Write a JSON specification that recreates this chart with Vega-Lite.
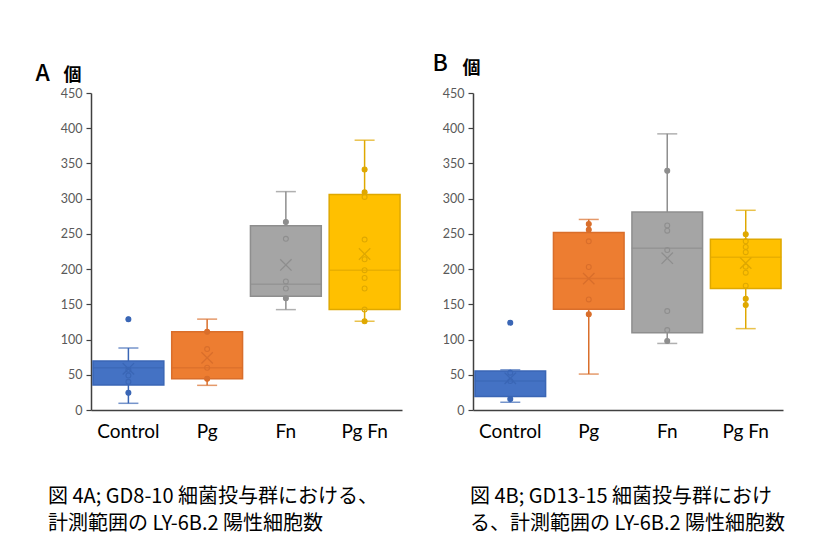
{
  "$schema": "https://vega.github.io/schema/vega-lite/v6.json",
  "autosize": {"type": "none"},
  "padding": {"left": 91, "top": 93, "right": 742, "bottom": 458},
  "background": "white",
  "bounds": "flush",
  "spacing": 71,
  "config": {
    "view": {"stroke": null},
    "axis": {"grid": false},
    "axisY": {
      "labelOverlap": false, "labelFlush": false, "labelBound": false,
      "labelFontSize": 12.5, "labelColor": "#595959", "labelPadding": 4,
      "tickSize": 5, "tickColor": "#404040", "domainColor": "#404040", "domainWidth": 1.5, "tickWidth": 1.2,
      "titleAlign": "left", "titleBaseline": "alphabetic", "titleAngle": 0,
      "titleFontSize": 18, "titleFontWeight": "bold", "titleColor": "#000000", "titleFont": "Noto Sans CJK JP"
    },
    "font": "Lato"
  },
  "datasets": {
    "statsA": [
      {"group": "Control", "min": 9.5, "q1": 35.5, "median": 60, "q3": 69.5, "max": 88, "mean": 58.5},
      {"group": "Pg", "min": 35, "q1": 44.5, "median": 60, "q3": 111, "max": 129, "mean": 74},
      {"group": "Fn", "min": 142.5, "q1": 161.5, "median": 178.5, "q3": 261.5, "max": 310, "mean": 206},
      {"group": "Pg Fn", "min": 126, "q1": 142.5, "median": 198.5, "q3": 306, "max": 383, "mean": 221.5}
    ],
    "statsB": [
      {"group": "Control", "min": 11, "q1": 19, "median": 41, "q3": 55.5, "max": 57, "mean": 45},
      {"group": "Pg", "min": 51, "q1": 143, "median": 186.5, "q3": 252, "max": 270.5, "mean": 186.5},
      {"group": "Fn", "min": 94.5, "q1": 109.5, "median": 229.5, "q3": 281, "max": 392, "mean": 215.5},
      {"group": "Pg Fn", "min": 115.5, "q1": 172.5, "median": 217, "q3": 242.5, "max": 283.5, "mean": 208.5}
    ],
    "pointsA": [
      {"group": "Control", "value": 24.5}, {"group": "Control", "value": 40}, {"group": "Control", "value": 49}, {"group": "Control", "value": 57}, {"group": "Control", "value": 129},
      {"group": "Pg", "value": 44.5}, {"group": "Pg", "value": 60}, {"group": "Pg", "value": 86.5}, {"group": "Pg", "value": 111},
      {"group": "Fn", "value": 158.5}, {"group": "Fn", "value": 172.5}, {"group": "Fn", "value": 182.5}, {"group": "Fn", "value": 243}, {"group": "Fn", "value": 267},
      {"group": "Pg Fn", "value": 126}, {"group": "Pg Fn", "value": 142.6}, {"group": "Pg Fn", "value": 172.5}, {"group": "Pg Fn", "value": 187.5}, {"group": "Pg Fn", "value": 198.5}, {"group": "Pg Fn", "value": 214}, {"group": "Pg Fn", "value": 242}, {"group": "Pg Fn", "value": 302.5}, {"group": "Pg Fn", "value": 309}, {"group": "Pg Fn", "value": 341.5}
    ],
    "pointsB": [
      {"group": "Control", "value": 15.5}, {"group": "Control", "value": 41}, {"group": "Control", "value": 53}, {"group": "Control", "value": 124},
      {"group": "Pg", "value": 136}, {"group": "Pg", "value": 157}, {"group": "Pg", "value": 203}, {"group": "Pg", "value": 239.5}, {"group": "Pg", "value": 256}, {"group": "Pg", "value": 264},
      {"group": "Fn", "value": 98}, {"group": "Fn", "value": 113.5}, {"group": "Fn", "value": 140.5}, {"group": "Fn", "value": 227}, {"group": "Fn", "value": 254.5}, {"group": "Fn", "value": 262}, {"group": "Fn", "value": 339.5},
      {"group": "Pg Fn", "value": 149}, {"group": "Pg Fn", "value": 158}, {"group": "Pg Fn", "value": 176.5}, {"group": "Pg Fn", "value": 195}, {"group": "Pg Fn", "value": 203.5}, {"group": "Pg Fn", "value": 224}, {"group": "Pg Fn", "value": 231.5}, {"group": "Pg Fn", "value": 239.5}, {"group": "Pg Fn", "value": 249.5}
    ]
  },
  "hconcat": [
    {
      "width": 311,
      "height": 317,
      "title": {
        "text": ["図 4A; GD8-10 細菌投与群における、", "計測範囲の LY-6B.2 陽性細胞数"],
        "orient": "bottom", "anchor": "start", "frame": "group", "dx": -43, "offset": 46,
        "font": "Noto Sans CJK JP", "fontSize": 20, "fontWeight": "normal", "lineHeight": 27, "color": "#000000"
      },
      "encoding": {
        "x": {
          "field": "group", "type": "nominal", "sort": ["Control", "Pg", "Fn", "Pg Fn"],
          "scale": {"paddingInner": 0.1, "paddingOuter": 0.025},
          "axis": {
            "labelAngle": 0, "labelFontSize": 19, "labelColor": "#000000", "labelPadding": 12, "ticks": false,
            "domainColor": "#404040", "domainWidth": 1.5,
            "title": "A", "titleX": -56, "titleY": -330, "titleAlign": "left", "titleBaseline": "alphabetic", "titleAngle": 0,
            "titleFontSize": 23, "titleFontWeight": 500, "titleColor": "#000000", "titleFont": "Noto Sans CJK JP"
          }
        }
      },
      "layer": [
        {
          "data": {"name": "statsA"},
          "mark": {"type": "rule", "strokeWidth": 1.5},
          "encoding": {
            "y": {"field": "min", "type": "quantitative", "title": "個", "scale": {"domain": [0, 450], "nice": false},
              "axis": {"values": [0, 50, 100, 150, 200, 250, 300, 350, 400, 450], "labelOverlap": false, "titleX": -28, "titleY": -13}},
            "y2": {"field": "q1"},
            "color": {"field": "group", "type": "nominal", "scale": {"domain": ["Control", "Pg", "Fn", "Pg Fn"], "range": ["#3A66B5", "#D96E2B", "#8E8E8E", "#DFA800"]}, "legend": null}
          }
        },
        {
          "data": {"name": "statsA"},
          "mark": {"type": "rule", "strokeWidth": 1.5},
          "encoding": {
            "y": {"field": "q3", "type": "quantitative", "title": "個", "axis": {"values": [0, 50, 100, 150, 200, 250, 300, 350, 400, 450], "labelOverlap": false, "titleX": -28, "titleY": -13}},
            "y2": {"field": "max"},
            "color": {"field": "group", "type": "nominal", "legend": null}
          }
        },
        {
          "data": {"name": "statsA"},
          "mark": {"type": "tick", "size": 20, "thickness": 1.5},
          "encoding": {
            "y": {"field": "min", "type": "quantitative", "title": "個", "axis": {"values": [0, 50, 100, 150, 200, 250, 300, 350, 400, 450], "labelOverlap": false, "titleX": -28, "titleY": -13}},
            "color": {"field": "group", "type": "nominal", "legend": null}
          }
        },
        {
          "data": {"name": "statsA"},
          "mark": {"type": "tick", "size": 20, "thickness": 1.5},
          "encoding": {
            "y": {"field": "max", "type": "quantitative", "title": "個", "axis": {"values": [0, 50, 100, 150, 200, 250, 300, 350, 400, 450], "labelOverlap": false, "titleX": -28, "titleY": -13}},
            "color": {"field": "group", "type": "nominal", "legend": null}
          }
        },
        {
          "data": {"name": "statsA"},
          "mark": {"type": "bar", "strokeWidth": 1.5},
          "encoding": {
            "y": {"field": "q1", "type": "quantitative", "title": "個", "axis": {"values": [0, 50, 100, 150, 200, 250, 300, 350, 400, 450], "labelOverlap": false, "titleX": -28, "titleY": -13}},
            "y2": {"field": "q3"},
            "fill": {"field": "group", "type": "nominal", "scale": {"domain": ["Control", "Pg", "Fn", "Pg Fn"], "range": ["#4472C4", "#ED7D31", "#A5A5A5", "#FFC000"]}, "legend": null},
            "stroke": {"field": "group", "type": "nominal", "scale": {"domain": ["Control", "Pg", "Fn", "Pg Fn"], "range": ["#3A66B5", "#D96E2B", "#8E8E8E", "#DFA800"]}, "legend": null}
          }
        },
        {
          "data": {"name": "statsA"},
          "mark": {"type": "tick", "size": 71, "thickness": 1.5},
          "encoding": {
            "y": {"field": "median", "type": "quantitative", "title": "個", "axis": {"values": [0, 50, 100, 150, 200, 250, 300, 350, 400, 450], "labelOverlap": false, "titleX": -28, "titleY": -13}},
            "color": {"field": "group", "type": "nominal", "legend": null}
          }
        },
        {
          "data": {"name": "pointsA"},
          "mark": {"type": "point", "shape": "circle", "filled": false, "size": 24, "strokeWidth": 1.1, "opacity": 1},
          "encoding": {
            "y": {"field": "value", "type": "quantitative", "title": "個", "axis": {"values": [0, 50, 100, 150, 200, 250, 300, 350, 400, 450], "labelOverlap": false, "titleX": -28, "titleY": -13}},
            "color": {"field": "group", "type": "nominal", "legend": null}
          }
        },
        {
          "data": {"name": "pointsA"},
          "transform": [
            {"lookup": "group", "from": {"data": {"name": "statsA"}, "key": "group", "fields": ["q1", "q3"]}},
            {"filter": "datum.value <= datum.q1 || datum.value >= datum.q3"}
          ],
          "mark": {"type": "point", "shape": "circle", "filled": true, "size": 26, "opacity": 1},
          "encoding": {
            "y": {"field": "value", "type": "quantitative", "title": "個", "axis": {"values": [0, 50, 100, 150, 200, 250, 300, 350, 400, 450], "labelOverlap": false, "titleX": -28, "titleY": -13}},
            "color": {"field": "group", "type": "nominal", "legend": null}
          }
        },
        {
          "data": {"name": "statsA"},
          "mark": {"type": "point", "shape": "M-1,-1L1,1M1,-1L-1,1", "filled": false, "size": 130, "strokeWidth": 1.3, "opacity": 1},
          "encoding": {
            "y": {"field": "mean", "type": "quantitative", "title": "個", "axis": {"values": [0, 50, 100, 150, 200, 250, 300, 350, 400, 450], "labelOverlap": false, "titleX": -28, "titleY": -13}},
            "color": {"field": "group", "type": "nominal", "legend": null}
          }
        }
      ]
    },
    {
      "width": 310,
      "height": 317,
      "title": {
        "text": ["図 4B; GD13-15 細菌投与群におけ", "る、計測範囲の LY-6B.2 陽性細胞数"],
        "orient": "bottom", "anchor": "start", "frame": "group", "dx": -3, "offset": 46,
        "font": "Noto Sans CJK JP", "fontSize": 20, "fontWeight": "normal", "lineHeight": 27, "color": "#000000"
      },
      "encoding": {
        "x": {
          "field": "group", "type": "nominal", "sort": ["Control", "Pg", "Fn", "Pg Fn"],
          "scale": {"paddingInner": 0.1, "paddingOuter": 0.025},
          "axis": {
            "labelAngle": 0, "labelFontSize": 19, "labelColor": "#000000", "labelPadding": 12, "ticks": false,
            "domainColor": "#404040", "domainWidth": 1.5,
            "title": "B", "titleX": -41, "titleY": -340, "titleAlign": "left", "titleBaseline": "alphabetic", "titleAngle": 0,
            "titleFontSize": 23, "titleFontWeight": 500, "titleColor": "#000000", "titleFont": "Noto Sans CJK JP"
          }
        }
      },
      "layer": [
        {
          "data": {"name": "statsB"},
          "mark": {"type": "rule", "strokeWidth": 1.5},
          "encoding": {
            "y": {"field": "min", "type": "quantitative", "title": "個", "scale": {"domain": [0, 450], "nice": false},
              "axis": {"values": [0, 50, 100, 150, 200, 250, 300, 350, 400, 450], "labelOverlap": false, "titleX": -11, "titleY": -20}},
            "y2": {"field": "q1"},
            "color": {"field": "group", "type": "nominal", "scale": {"domain": ["Control", "Pg", "Fn", "Pg Fn"], "range": ["#3A66B5", "#D96E2B", "#8E8E8E", "#DFA800"]}, "legend": null}
          }
        },
        {
          "data": {"name": "statsB"},
          "mark": {"type": "rule", "strokeWidth": 1.5},
          "encoding": {
            "y": {"field": "q3", "type": "quantitative", "title": "個", "axis": {"values": [0, 50, 100, 150, 200, 250, 300, 350, 400, 450], "labelOverlap": false, "titleX": -11, "titleY": -20}},
            "y2": {"field": "max"},
            "color": {"field": "group", "type": "nominal", "legend": null}
          }
        },
        {
          "data": {"name": "statsB"},
          "mark": {"type": "tick", "size": 20, "thickness": 1.5},
          "encoding": {
            "y": {"field": "min", "type": "quantitative", "title": "個", "axis": {"values": [0, 50, 100, 150, 200, 250, 300, 350, 400, 450], "labelOverlap": false, "titleX": -11, "titleY": -20}},
            "color": {"field": "group", "type": "nominal", "legend": null}
          }
        },
        {
          "data": {"name": "statsB"},
          "mark": {"type": "tick", "size": 20, "thickness": 1.5},
          "encoding": {
            "y": {"field": "max", "type": "quantitative", "title": "個", "axis": {"values": [0, 50, 100, 150, 200, 250, 300, 350, 400, 450], "labelOverlap": false, "titleX": -11, "titleY": -20}},
            "color": {"field": "group", "type": "nominal", "legend": null}
          }
        },
        {
          "data": {"name": "statsB"},
          "mark": {"type": "bar", "strokeWidth": 1.5},
          "encoding": {
            "y": {"field": "q1", "type": "quantitative", "title": "個", "axis": {"values": [0, 50, 100, 150, 200, 250, 300, 350, 400, 450], "labelOverlap": false, "titleX": -11, "titleY": -20}},
            "y2": {"field": "q3"},
            "fill": {"field": "group", "type": "nominal", "scale": {"domain": ["Control", "Pg", "Fn", "Pg Fn"], "range": ["#4472C4", "#ED7D31", "#A5A5A5", "#FFC000"]}, "legend": null},
            "stroke": {"field": "group", "type": "nominal", "scale": {"domain": ["Control", "Pg", "Fn", "Pg Fn"], "range": ["#3A66B5", "#D96E2B", "#8E8E8E", "#DFA800"]}, "legend": null}
          }
        },
        {
          "data": {"name": "statsB"},
          "mark": {"type": "tick", "size": 71, "thickness": 1.5},
          "encoding": {
            "y": {"field": "median", "type": "quantitative", "title": "個", "axis": {"values": [0, 50, 100, 150, 200, 250, 300, 350, 400, 450], "labelOverlap": false, "titleX": -11, "titleY": -20}},
            "color": {"field": "group", "type": "nominal", "legend": null}
          }
        },
        {
          "data": {"name": "pointsB"},
          "mark": {"type": "point", "shape": "circle", "filled": false, "size": 24, "strokeWidth": 1.1, "opacity": 1},
          "encoding": {
            "y": {"field": "value", "type": "quantitative", "title": "個", "axis": {"values": [0, 50, 100, 150, 200, 250, 300, 350, 400, 450], "labelOverlap": false, "titleX": -11, "titleY": -20}},
            "color": {"field": "group", "type": "nominal", "legend": null}
          }
        },
        {
          "data": {"name": "pointsB"},
          "transform": [
            {"lookup": "group", "from": {"data": {"name": "statsB"}, "key": "group", "fields": ["q1", "q3"]}},
            {"filter": "datum.value <= datum.q1 || datum.value >= datum.q3"}
          ],
          "mark": {"type": "point", "shape": "circle", "filled": true, "size": 26, "opacity": 1},
          "encoding": {
            "y": {"field": "value", "type": "quantitative", "title": "個", "axis": {"values": [0, 50, 100, 150, 200, 250, 300, 350, 400, 450], "labelOverlap": false, "titleX": -11, "titleY": -20}},
            "color": {"field": "group", "type": "nominal", "legend": null}
          }
        },
        {
          "data": {"name": "statsB"},
          "mark": {"type": "point", "shape": "M-1,-1L1,1M1,-1L-1,1", "filled": false, "size": 130, "strokeWidth": 1.3, "opacity": 1},
          "encoding": {
            "y": {"field": "mean", "type": "quantitative", "title": "個", "axis": {"values": [0, 50, 100, 150, 200, 250, 300, 350, 400, 450], "labelOverlap": false, "titleX": -11, "titleY": -20}},
            "color": {"field": "group", "type": "nominal", "legend": null}
          }
        }
      ]
    }
  ]
}
